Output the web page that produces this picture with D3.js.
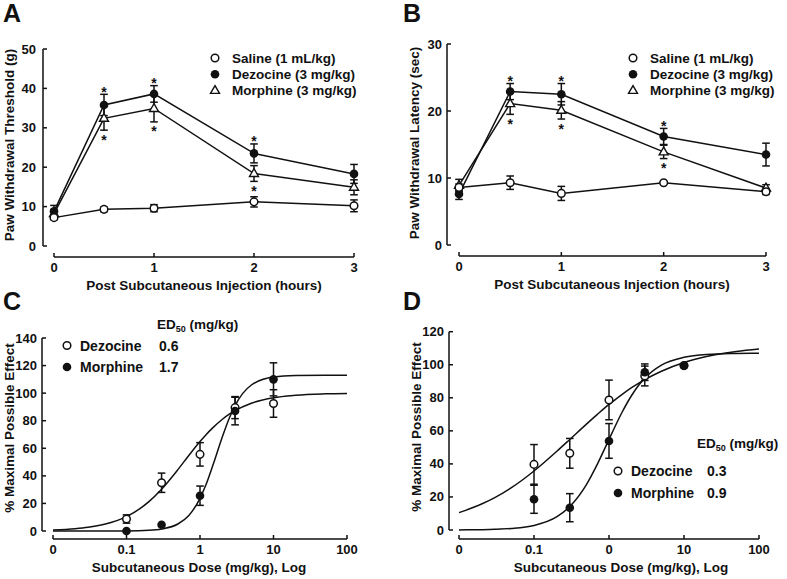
<!DOCTYPE html>
<html><head><meta charset="utf-8">
<script src="https://cdn.jsdelivr.net/npm/d3@7"></script>
<style>
body{margin:0;background:#fff;}
text{font-family:"Liberation Sans",Arial,sans-serif;font-weight:bold;fill:#111;}
</style></head>
<body><svg id="chart" width="787" height="579"></svg>
<script>
// ---------- DATA ----------
const hours = [0, 0.5, 1, 2, 3];
const hourTicks = [0, 1, 2, 3];
const seriesNamesAB = ["Saline (1 mL/kg)", "Dezocine (3 mg/kg)", "Morphine (3 mg/kg)"];

// Panel A: paw withdrawal threshold (g)
const aSaline = [7.2, 9.3, 9.6, 11.2, 10.2];
const aSalineErr = [0.5, 0.6, 0.9, 1.3, 1.5];
const aDezocine = [8.8, 35.8, 38.6, 23.5, 18.3];
const aDezocineErr = [1.5, 2.7, 2.1, 2.4, 2.4];
const aMorphine = [8.2, 32.4, 34.9, 18.4, 14.9];
const aMorphineErr = [1.0, 3.0, 3.4, 2.0, 1.9];
const aDezSig = [false, true, true, true, false];
const aMorSig = [false, true, true, true, false];
const aYTicks = [0, 10, 20, 30, 40, 50];

// Panel B: paw withdrawal latency (sec)
const bSaline = [8.6, 9.3, 7.7, 9.3, 7.95];
const bSalineErr = [0.5, 1.0, 1.05, 0.2, 0.4];
const bDezocine = [7.6, 22.9, 22.5, 16.2, 13.5];
const bDezocineErr = [0.8, 1.2, 1.6, 1.2, 1.7];
const bMorphine = [8.9, 21.1, 20.1, 13.9, 8.5];
const bMorphineErr = [0.9, 1.6, 1.3, 1.0, 0.5];
const bDezSig = [false, true, true, true, false];
const bMorSig = [false, true, true, true, false];
const bYTicks = [0, 10, 20, 30];

// Panels C & D: dose-response (% MPE)
const doses = [0.1, 0.3, 1, 3, 10];
const logTicks = [0.01, 0.1, 1, 10, 100];
const cTickLabels = ["0", "0.1", "1", "10", "100"];
const dTickLabels = ["0", "0.1", "0", "10", "100"];
const drugNames = ["Dezocine", "Morphine"];
const cED50 = ["0.6", "1.7"];
const dED50 = ["0.3", "0.9"];

const cDezocine = [8.7, 35.0, 55.6, 89.5, 92.5];
const cDezocineErr = [3, 7, 8.5, 8, 10];
const cMorphine = [0, 4.5, 25.6, 87, 110];
const cMorphineErr = [0, 0, 7, 10, 12];
const cYTicks = [0, 20, 40, 60, 80, 100, 120, 140];

const dDezocine = [39.7, 46.4, 78.7, 93.2, 99.5];
const dDezocineErr = [12, 9, 12, 6, 0];
const dMorphine = [18.6, 13.5, 53.9, 95.5, 99.4];
const dMorphineErr = [8.5, 8.5, 10.5, 5, 1];
const dYTicks = [0, 20, 40, 60, 80, 100, 120];

// fitted curves, read along the dose axis
const curveDoses = [0.01,0.02,0.03,0.05,0.1,0.2,0.3,0.5,0.7,1,1.2,1.5,2,2.5,3,5,10,20,50,100];
const cDezCurve = [0.73,1.66,2.67,4.83,10.4,21.1,30.3,44.5,54.6,64.9,69.7,75.0,80.9,84.7,87.3,92.7,96.7,98.5,99.5,99.8];
const cMorCurve = [0,0,0,0.02,0.09,0.53,1.46,5.07,11.1,23.7,33.3,47.8,67.8,81.8,91.0,105.9,111.7,112.8,113,113];
const dDezCurve = [10.5,15.7,19.6,25.6,35.7,47.5,54.8,64.1,70.0,76.0,78.8,82.1,86.1,88.9,91.0,96.1,101.4,105.0,108.0,109.5];
const dMorCurve = [0.07,0.21,0.41,0.92,2.75,7.9,14.2,27.5,39.9,54.8,62.5,71.4,81.4,87.7,91.9,99.8,104.5,106.2,106.8,107.0];

// ---------- DRAWING ----------
const svg = d3.select("#chart");
const INK = "#111";
const FS = 13.5;

function panelLetter(t, x, y){
  svg.append("text").attr("x", x).attr("y", y).attr("font-size", 25).text(t);
}

function yAxis(cfg){
  const g = svg.append("g");
  g.append("line").attr("x1", cfg.ax).attr("x2", cfg.ax)
    .attr("y1", cfg.y(cfg.yTicks[cfg.yTicks.length-1])).attr("y2", cfg.y(0))
    .attr("stroke", INK).attr("stroke-width", 1.5);
  cfg.yTicks.forEach(v => {
    g.append("line").attr("x1", cfg.ax).attr("x2", cfg.ax + 4)
      .attr("y1", cfg.y(v)).attr("y2", cfg.y(v)).attr("stroke", INK).attr("stroke-width", 1.5);
    g.append("text").attr("x", cfg.ax - cfg.lgap).attr("y", cfg.y(v) + 4.5)
      .attr("text-anchor", "end").attr("font-size", 13).text(v);
  });
  g.append("text").attr("transform", `translate(${cfg.tx},${cfg.ty}) rotate(-90)`)
    .attr("text-anchor", "middle").attr("font-size", FS).text(cfg.title);
}

function xAxis(cfg){
  const g = svg.append("g");
  const [a, b] = cfg.x.range();
  g.append("line").attr("x1", a).attr("x2", b).attr("y1", cfg.axY).attr("y2", cfg.axY)
    .attr("stroke", INK).attr("stroke-width", 1.5);
  cfg.ticks.forEach((v, i) => {
    g.append("line").attr("x1", cfg.x(v)).attr("x2", cfg.x(v))
      .attr("y1", cfg.axY).attr("y2", cfg.axY - 4).attr("stroke", INK).attr("stroke-width", 1.5);
    g.append("text").attr("x", cfg.x(v)).attr("y", cfg.axY + 15)
      .attr("text-anchor", "middle").attr("font-size", 13).text(cfg.labels ? cfg.labels[i] : v);
  });
  g.append("text").attr("x", cfg.titleX).attr("y", cfg.axY + 33)
    .attr("text-anchor", "middle").attr("font-size", FS).text(cfg.title);
}

function marker(g, type, cx, cy){
  if (type === "open") {
    g.append("circle").attr("cx", cx).attr("cy", cy).attr("r", 3.8)
      .attr("fill", "#fff").attr("stroke", INK).attr("stroke-width", 1.5);
  } else if (type === "filled") {
    g.append("circle").attr("cx", cx).attr("cy", cy).attr("r", 4.3).attr("fill", INK);
  } else {
    const s = 9, h = s * 0.866;
    g.append("path").attr("d", `M${cx},${cy - h*0.62}L${cx + s/2},${cy + h*0.38}L${cx - s/2},${cy + h*0.38}Z`)
      .attr("fill", "#fff").attr("stroke", INK).attr("stroke-width", 1.4);
  }
}

function errBars(g, xs, ys, es, x, y){
  xs.forEach((xv, i) => {
    if (!es[i]) return;
    const cx = x(xv), t = y(ys[i] + es[i]), b = y(ys[i] - es[i]);
    g.append("line").attr("x1", cx).attr("x2", cx).attr("y1", t).attr("y2", b).attr("stroke", INK).attr("stroke-width", 1.5);
    [t, b].forEach(yy => g.append("line").attr("x1", cx - 3.8).attr("x2", cx + 3.8)
      .attr("y1", yy).attr("y2", yy).attr("stroke", INK).attr("stroke-width", 1.5));
  });
}

function series(g, xs, ys, es, x, y, type, connect){
  if (connect) {
    g.append("path").attr("d", d3.line().x((d, i) => x(xs[i])).y(d => y(d))(ys))
      .attr("fill", "none").attr("stroke", INK).attr("stroke-width", 1.5);
  }
  errBars(g, xs, ys, es, x, y);
}

function stars(g, xs, ys, es, sig, x, y, above){
  xs.forEach((xv, i) => {
    if (!sig[i]) return;
    const yy = above ? y(ys[i] + es[i]) + 2.5 : y(ys[i] - es[i]) + 14.5;
    g.append("text").attr("x", x(xv)).attr("y", yy).attr("text-anchor", "middle")
      .attr("font-size", 14).text("*");
  });
}

// ----- Time-course panels -----
function timePanel(p){
  const x = d3.scaleLinear().domain([0, 3]).range([p.x0, p.x3]);
  const y = d3.scaleLinear().domain([0, p.yMax]).range([p.yBot, p.yTop]);
  yAxis({ax: p.ax, y, yTicks: p.yTicks, lgap: p.lgap, title: p.yTitle, tx: p.ytx, ty: p.yty});
  xAxis({x, axY: p.axY, ticks: hourTicks, title: "Post Subcutaneous Injection (hours)", titleX: p.xtx});
  const g = svg.append("g");
  series(g, hours, p.sal, p.salE, x, y, "open", true);
  series(g, hours, p.mor, p.morE, x, y, "tri", true);
  series(g, hours, p.dez, p.dezE, x, y, "filled", true);
  hours.forEach((h, i) => marker(g, "tri", x(h), y(p.mor[i])));
  hours.forEach((h, i) => marker(g, "filled", x(h), y(p.dez[i])));
  hours.forEach((h, i) => marker(g, "open", x(h), y(p.sal[i])));
  stars(g, hours, p.dez, p.dezE, p.dezSig, x, y, true);
  stars(g, hours, p.mor, p.morE, p.morSig, x, y, false);
  // legend
  const types = ["open", "filled", "tri"];
  seriesNamesAB.forEach((n, i) => {
    const yy = p.legY + i * 16.2;
    marker(g, types[i], p.legX, yy);
    g.append("text").attr("x", p.legX + 17).attr("y", yy + 5).attr("font-size", FS).text(n);
  });
}

timePanel({x0: 54, x3: 354, yMax: 50, yBot: 246, yTop: 49, ax: 43, axY: 257, yTicks: aYTicks, lgap: 7,
  yTitle: "Paw Withdrawal Threshold (g)", ytx: 14, yty: 145, xtx: 204,
  sal: aSaline, salE: aSalineErr, dez: aDezocine, dezE: aDezocineErr, mor: aMorphine, morE: aMorphineErr,
  dezSig: aDezSig, morSig: aMorSig, legX: 215, legY: 58});
timePanel({x0: 459, x3: 766, yMax: 30, yBot: 245, yTop: 44, ax: 447, axY: 256, yTicks: bYTicks, lgap: 5,
  yTitle: "Paw Withdrawal Latency (sec)", ytx: 419, yty: 143, xtx: 612,
  sal: bSaline, salE: bSalineErr, dez: bDezocine, dezE: bDezocineErr, mor: bMorphine, morE: bMorphineErr,
  dezSig: bDezSig, morSig: bMorSig, legX: 633, legY: 58});

// ----- Dose-response panels -----
function dosePanel(p){
  const x = d3.scaleLog().domain([0.01, 100]).range([p.x0, p.x1]);
  const y = d3.scaleLinear().domain([0, p.yMax]).range([p.yBot, p.yTop]);
  yAxis({ax: p.ax, y, yTicks: p.yTicks, lgap: 5, title: "% Maximal Possible Effect", tx: p.ytx, ty: p.yty});
  xAxis({x, axY: 539, ticks: logTicks, labels: p.labels, title: "Subcutaneous Dose (mg/kg), Log", titleX: p.xtx});
  const g = svg.append("g");
  const line = d3.line().x((d, i) => x(curveDoses[i])).y(d => y(d)).curve(d3.curveMonotoneX);
  [p.dezC, p.morC].forEach(c => g.append("path").attr("d", line(c))
    .attr("fill", "none").attr("stroke", INK).attr("stroke-width", 1.5));
  errBars(g, doses, p.mor, p.morE, x, y);
  errBars(g, doses, p.dez, p.dezE, x, y);
  doses.forEach((d, i) => marker(g, "open", x(d), y(p.dez[i])));
  doses.forEach((d, i) => marker(g, "filled", x(d), y(p.mor[i])));
  // legend with ED50
  g.append("text").attr("x", p.hx).attr("y", p.hy).attr("font-size", FS)
    .attr("font-weight", p.hWeight)
    .call(t => { t.append("tspan").text("ED");
                 t.append("tspan").attr("font-size", 9).attr("dy", 3).text("50");
                 t.append("tspan").attr("dy", -3).text(" (mg/kg)"); });
  ["open", "filled"].forEach((tp, i) => {
    const yy = p.ly + i * p.lstep;
    marker(g, tp, p.lx, yy);
    g.append("text").attr("x", p.lx + 13).attr("y", yy + 5).attr("font-size", FS + 0.5).text(drugNames[i]);
    g.append("text").attr("x", p.vx).attr("y", yy + 5).attr("font-size", FS + 0.5).text(p.ed[i]);
  });
}

dosePanel({x0: 53, x1: 347, yMax: 140, yBot: 531, yTop: 338, ax: 42, yTicks: cYTicks, labels: cTickLabels,
  ytx: 14, yty: 428, xtx: 199,
  dez: cDezocine, dezE: cDezocineErr, mor: cMorphine, morE: cMorphineErr, dezC: cDezCurve, morC: cMorCurve,
  hx: 157, hy: 329, hWeight: "normal", lx: 67, ly: 345.5, lstep: 21.5, vx: 159, ed: cED50});
dosePanel({x0: 459, x1: 759, yMax: 120, yBot: 530, yTop: 331.7, ax: 449, yTicks: dYTicks, labels: dTickLabels,
  ytx: 421, yty: 427, xtx: 621,
  dez: dDezocine, dezE: dDezocineErr, mor: dMorphine, morE: dMorphineErr, dezC: dDezCurve, morC: dMorCurve,
  hx: 697, hy: 448, hWeight: "bold", lx: 618, ly: 471, lstep: 22, vx: 707, ed: dED50});

panelLetter("A", 3, 22);
panelLetter("B", 403, 22);
panelLetter("C", 3, 310);
panelLetter("D", 403, 310);
</script></body></html>
